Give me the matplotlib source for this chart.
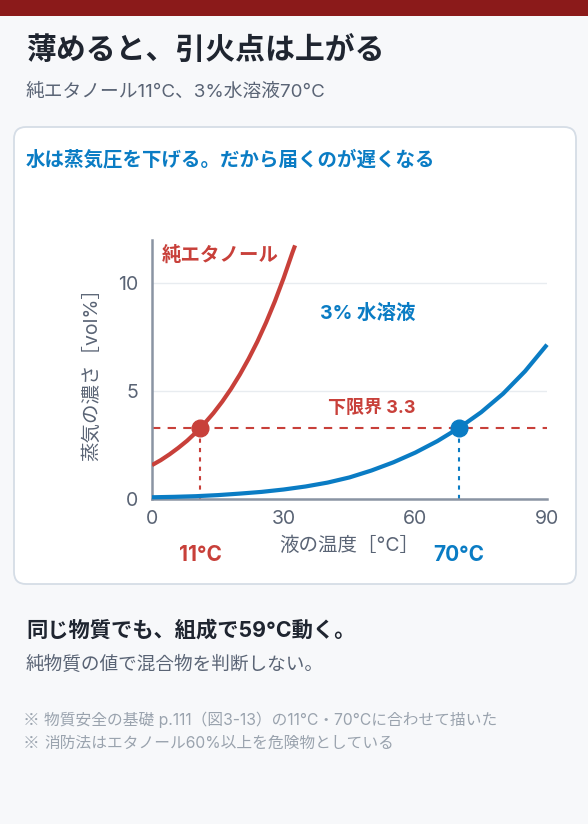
import matplotlib
matplotlib.use("Agg")
import matplotlib.pyplot as plt
from matplotlib.patches import FancyBboxPatch, Rectangle

plt.rcParams['font.family'] = ['Inter', 'Noto Sans CJK JP', 'DejaVu Sans']

# data
pure_temp = [0, 2, 4, 6, 8, 10, 11, 12, 14, 16, 18, 20, 22, 24, 26, 28, 30, 32, 32.6]
pure_conc = [1.57, 1.8, 2.07, 2.37, 2.7, 3.08, 3.3, 3.51, 3.98, 4.51, 5.1, 5.76,
             6.49, 7.29, 8.18, 9.16, 10.24, 11.42, 11.75]
sol_temp = [0, 5, 10, 15, 20, 25, 30, 35, 40, 45, 50, 55, 60, 65, 70, 75, 80, 85, 90]
sol_conc = [0.08, 0.1, 0.13, 0.18, 0.25, 0.33, 0.44, 0.58, 0.76, 1.0, 1.32, 1.7,
            2.15, 2.68, 3.3, 4.02, 4.88, 5.92, 7.15]
lower_limit = 3.3
flash_pure = 11
flash_sol = 70
x_ticks = [0, 30, 60, 90]
y_ticks = [0, 5, 10]
notes = ['物質安全の基礎 p.111（図3-13）の11°C・70°Cに合わせて描いた',
         '消防法はエタノール60%以上を危険物としている']

RED = '#c8403a'
BLUE = '#0a7cc4'
DARK = '#1f2530'
GRAY = '#5a6475'
LIGHT = '#9aa3ae'

fig = plt.figure(figsize=(5.88, 8.24), dpi=100)
fig.patch.set_facecolor('#f7f8fa')

# background layer in pixel coords
bg = fig.add_axes([0, 0, 1, 1])
bg.set_xlim(0, 588)
bg.set_ylim(824, 0)
bg.axis('off')
bg.add_patch(Rectangle((0, 0), 588, 16, color='#8b1a1a', lw=0))
bg.add_patch(FancyBboxPatch((14, 127), 562, 457, boxstyle='round,pad=0,rounding_size=12',
                            fc='white', ec='#d5dde6', lw=1.3))

bg.text(26, 51, '薄めると、引火点は上がる', fontsize=21.5, fontweight='bold',
        color=DARK, va='center')
bg.text(26, 92, '純エタノール11°C、3%水溶液70°C', fontsize=13.5, color=GRAY, va='center')
bg.text(26, 160, '水は蒸気圧を下げる。だから届くのが遅くなる', fontsize=14,
        fontweight='bold', color=BLUE, va='center')
bg.text(26, 630, '同じ物質でも、組成で59°C動く。', fontsize=15.3, fontweight='bold',
        color=DARK, va='center')
bg.text(26, 665, '純物質の値で混合物を判断しない。', fontsize=13.4, color=GRAY, va='center')
for i, note in enumerate(notes):
    y = 720 + 23 * i
    bg.text(23, y, '※', fontsize=12, color=LIGHT, va='center', family='Noto Sans CJK JP')
    bg.text(44, y, note, fontsize=11.3, color=LIGHT, va='center')

# chart
ax = fig.add_axes([152 / 588, 1 - 499 / 824, 395 / 588, 259 / 824])
ax.set_facecolor('none')
ax.set_xlim(0, 90)
ax.set_ylim(0, 12)
for s in ['top', 'right']:
    ax.spines[s].set_visible(False)
for s in ['left', 'bottom']:
    ax.spines[s].set_color('#8a94a3')
    ax.spines[s].set_linewidth(1.8)
ax.set_xticks(x_ticks)
ax.set_yticks(y_ticks)
ax.tick_params(length=0, labelsize=14, labelcolor=GRAY)
ax.tick_params(axis='x', pad=8)
ax.tick_params(axis='y', pad=10)
ax.grid(axis='y', color='#e8ecf0', lw=1)
ax.set_axisbelow(True)

ax.axhline(lower_limit, color=RED, ls=(0, (4, 3.5)), lw=1.5, zorder=2)
ax.plot([flash_pure, flash_pure], [0, lower_limit], color=RED, ls=(0, (2, 2.5)), lw=1.5)
ax.plot([flash_sol, flash_sol], [0, lower_limit], color=BLUE, ls=(0, (2, 2.5)), lw=1.5)

ax.plot(pure_temp, pure_conc, color=RED, lw=3, solid_capstyle='butt',
        solid_joinstyle='round', zorder=3)
ax.plot(sol_temp, sol_conc, color=BLUE, lw=3, solid_capstyle='butt',
        solid_joinstyle='round', clip_on=False, zorder=3)
ax.plot(flash_pure, lower_limit, 'o', color=RED, ms=12, zorder=4)
ax.plot(flash_sol, lower_limit, 'o', color=BLUE, ms=12, zorder=4)

ax.text(2.2, 11.3, '純エタノール', color=RED, fontsize=14, fontweight='bold', va='center')
ax.text(49.2, 8.6, '3% 水溶液', color=BLUE, fontsize=14, fontweight='bold',
        ha='center', va='center')
ax.text(50, 4.2, '下限界 3.3', color=RED, fontsize=13, fontweight='bold',
        ha='center', va='center')

ax.set_xlabel('液の温度［°C］', fontsize=14, color=GRAY, labelpad=6)
ax.set_ylabel('蒸気の濃さ［vol%］', fontsize=14, color=GRAY, labelpad=12)

ax.text(flash_pure, -2.6, '11°C', color=RED, fontsize=15, fontweight='bold',
        ha='center', va='center')
ax.text(flash_sol, -2.6, '70°C', color=BLUE, fontsize=15, fontweight='bold',
        ha='center', va='center')

fig.savefig('out.png', dpi=100, facecolor=fig.get_facecolor())
